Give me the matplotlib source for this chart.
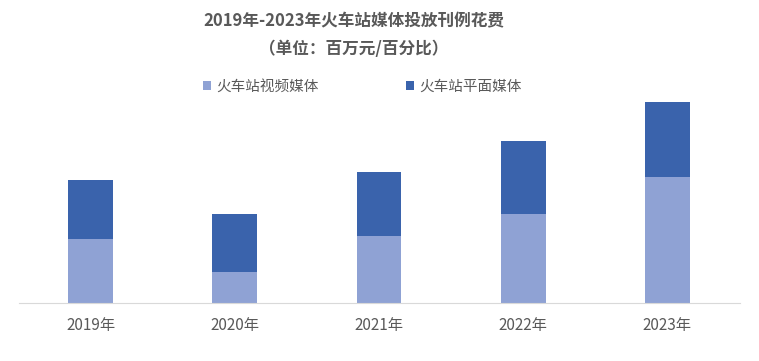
import matplotlib.pyplot as plt
import numpy as np

plt.rcParams['font.family'] = ['Noto Sans CJK SC', 'DejaVu Sans']

years = ['2019年', '2020年', '2021年', '2022年', '2023年']
video = [64, 31, 67, 89, 126]
print_media = [59, 58, 64, 73, 75]
labels = ['火车站视频媒体', '火车站平面媒体']
colors = ['#8FA2D4', '#3A63AC']
text_color = '#595959'

fig = plt.figure(figsize=(7.59, 3.61), dpi=100)
ax = fig.add_axes([18.5 / 759, 58 / 361, 721 / 759, 208 / 361])

x = np.arange(len(years))
ax.bar(x, video, width=0.31, color=colors[0], label=labels[0])
ax.bar(x, print_media, width=0.31, bottom=video, color=colors[1], label=labels[1])

ax.set_xlim(-0.5, 4.5)
ax.set_ylim(0, 208)
ax.set_xticks(x)
ax.set_xticklabels(years, fontsize=11, color=text_color)
ax.tick_params(axis='x', length=0, pad=10)
ax.set_yticks([])
for s in ['top', 'right', 'left']:
    ax.spines[s].set_visible(False)
ax.spines['bottom'].set_color('#D9D9D9')

fig.text(354 / 759, 1 - 21 / 361, '2019年-2023年火车站媒体投放刊例花费', ha='center', va='center',
         fontsize=12, fontweight='bold', color=text_color)
fig.text(354 / 759, 1 - 49 / 361, '（单位：百万元/百分比）', ha='center', va='center',
         fontsize=12, fontweight='bold', color=text_color)

fig.legend(loc='center', bbox_to_anchor=(362 / 759, 1 - 87 / 361), ncol=2, frameon=False,
           fontsize=10.5, labelcolor=text_color, handlelength=0.55, handleheight=0.55,
           handletextpad=0.35, columnspacing=6.0)

fig.savefig('out.png', dpi=100)
